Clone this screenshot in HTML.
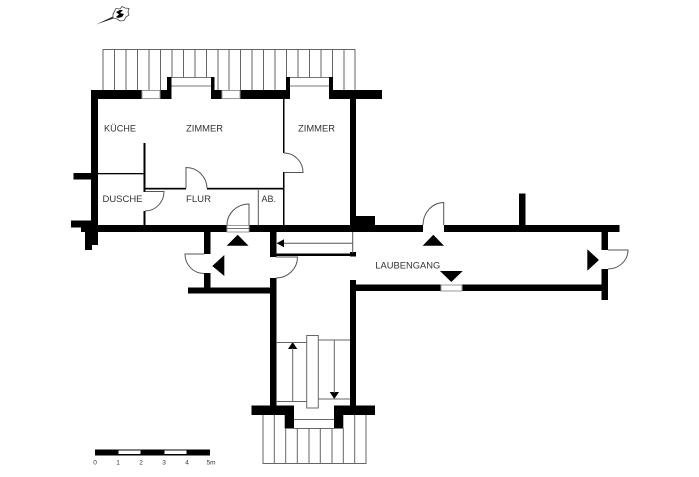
<!DOCTYPE html>
<html><head><meta charset="utf-8"><style>
html,body{margin:0;padding:0;background:#fff;width:699px;height:477px;overflow:hidden}
svg{display:block}
text{font-family:"Liberation Sans",sans-serif;font-size:9px;fill:#333}
</style></head><body>
<svg width="699" height="477" viewBox="0 0 699 477" xmlns="http://www.w3.org/2000/svg">
<!-- roof pickets top -->
<g stroke="#666" stroke-width="1" fill="none">
<path d="M103 90V49.5H355V90"/>
<path d="M114.5 90V50M126 90V50M137.5 90V50M149 90V50M160.5 90V50M172 78V50M183.5 78V50M195 78V50M206.5 78V50M218 90V50M229 90V50M240.5 90V50M252 90V50M263.5 90V50M275 90V50M286.5 78V50M298 78V50M309.5 78V50M321 78V50M332.5 90V50M344 90V50"/>
<path d="M171 77.5H211M171 86H211M290 77.5H329M290 86H329" stroke="#777"/>
</g>
<!-- thick walls -->
<g fill="#000">
<rect x="91" y="90" width="51" height="9"/>
<rect x="160" y="90" width="11" height="9"/>
<rect x="167" y="77" width="4.500" height="22"/>
<rect x="211" y="77" width="3.500" height="22"/>
<rect x="211" y="90" width="11" height="9"/>
<rect x="240" y="90" width="50" height="9"/>
<rect x="286" y="77" width="4" height="22"/>
<rect x="329" y="77" width="4" height="22"/>
<rect x="329" y="90" width="53" height="9"/>
<rect x="91" y="90" width="7" height="138"/>
<rect x="350" y="99" width="6" height="128"/>
<rect x="350" y="216" width="25" height="10"/>
<rect x="73.500" y="173" width="18" height="6.500"/>
<rect x="71" y="220.500" width="21" height="7"/>
<rect x="81" y="225" width="17" height="7"/>
<rect x="85" y="228" width="13" height="17"/>
<rect x="85" y="244" width="7" height="6"/>
<rect x="91" y="225" width="136" height="7"/>
<rect x="249" y="225" width="174" height="7"/>
<rect x="444" y="225" width="175.500" height="7"/>
<rect x="519" y="193.500" width="6.500" height="32"/>
<rect x="601.500" y="225" width="6.500" height="25"/>
<rect x="601.500" y="269" width="6.500" height="31"/>
<rect x="204" y="232" width="6.500" height="22"/>
<rect x="204" y="273" width="6.500" height="17"/>
<rect x="188" y="287.500" width="88" height="6"/>
<rect x="270" y="232" width="6.500" height="25"/>
<rect x="270" y="278" width="6.500" height="130"/>
<rect x="350" y="280" width="6" height="128"/>
<rect x="356" y="284.500" width="85" height="6.500"/>
<rect x="462" y="284.500" width="140" height="6.500"/>
<rect x="276" y="253.500" width="75" height="2.500"/>
<rect x="350" y="252" width="6" height="4.500"/>
<!-- inner walls -->
<rect x="143.500" y="143" width="2" height="49"/>
<rect x="143.500" y="211" width="2" height="14"/>
<rect x="145" y="187.800" width="41" height="1.700"/>
<rect x="207" y="187.800" width="77" height="1.700"/>
<rect x="98" y="173" width="46" height="1.300"/>
<rect x="283" y="99" width="1.500" height="54"/>
<rect x="283" y="172" width="1.500" height="53"/>
<!-- stair bottom -->
<rect x="251.500" y="405.500" width="42.500" height="9.500"/>
<rect x="284.700" y="405.500" width="9.300" height="23"/>
<rect x="334" y="405.500" width="41" height="9.500"/>
<rect x="334" y="405.500" width="9.300" height="23"/>
</g>
<!-- windows -->
<g fill="#fff" stroke="#999" stroke-width="1">
<rect x="142" y="90.500" width="18" height="8"/>
<rect x="222" y="90.500" width="18" height="8"/>
<rect x="441" y="285" width="21" height="6"/>
<rect x="227" y="225.500" width="22" height="6.500"/>
</g>
<path d="M227 228.500H249" stroke="#777" fill="none"/>
<!-- doors -->
<g fill="none" stroke="#555" stroke-width="1">
<path d="M249 225V204A22 21 0 0 0 227 225"/>
<path d="M443.700 225V202.500A21 22.500 0 0 0 423 225"/>
<path d="M284 172.500H303A19 19.500 0 0 0 284 153"/>
<path d="M186 188V167.500A21 21 0 0 1 207 188"/>
<path d="M145 191.500H164A19 19.500 0 0 1 145 211"/>
<path d="M204 254H185A19 19.500 0 0 0 204 273.500"/>
<path d="M276 257H297.500A21.500 21 0 0 1 276 278"/>
<path d="M608 250H628A20 19 0 0 1 608 269"/>
<path d="M258.300 190V225"/>
<path d="M277 243.300H352.700M352.700 232V253"/>
</g>
<!-- triangles -->
<g fill="#000">
<polygon points="226.700,245.700 248.500,245.700 237.700,234.700"/>
<polygon points="422.700,245.700 444,245.700 433.300,234.700"/>
<polygon points="440,271 462.700,271 451.300,282"/>
<polygon points="587.300,249.300 587.300,270.700 599,260"/>
<polygon points="212.300,266 224.300,255 224.300,276"/>
<polygon points="276.700,243.300 284,239.300 284,247.300"/>
<polygon points="292.700,342 288,349 297.300,349"/>
<polygon points="334.300,399 329.700,392 339,392"/>
</g>
<!-- stairs -->
<g fill="none" stroke="#666" stroke-width="1">
<rect x="306.700" y="335.500" width="11.600" height="72.500" fill="#fff"/>
<path d="M276 342.500H306.700M276 401.500H306.700M318.300 340H350M318.300 399H350"/>
<path d="M292.700 401V348M334.300 340V393"/>
<path d="M294 419.500H334M294 428.500H334"/>
<path d="M263 415V463.500H366V415M274.300 415V463M285.700 428V463M297.300 428V463M309 428V463M320.300 428V463M332 428V463M343.300 428V463M354.700 415V463"/>
</g>
<!-- scale -->
<g>
<rect x="95" y="449.500" width="115" height="6" fill="#000"/>
<rect x="118.500" y="450.500" width="22" height="3.500" fill="#fff"/>
<rect x="164.500" y="450.500" width="22" height="3.500" fill="#fff"/>
</g>
<g style="font-size:6.500px" text-anchor="middle">
<text x="95" y="464.500" style="font-size:6.500px">0</text>
<text x="118" y="464.500" style="font-size:6.500px">1</text>
<text x="141" y="464.500" style="font-size:6.500px">2</text>
<text x="164" y="464.500" style="font-size:6.500px">3</text>
<text x="187" y="464.500" style="font-size:6.500px">4</text>
<text x="211" y="464.500" style="font-size:6.500px" textLength="9" lengthAdjust="spacingAndGlyphs">5m</text>
</g>
<!-- labels -->
<text x="104" y="131.500" textLength="32" lengthAdjust="spacingAndGlyphs">KÜCHE</text>
<text x="186" y="131.500" textLength="37" lengthAdjust="spacingAndGlyphs">ZIMMER</text>
<text x="298" y="131.500" textLength="37" lengthAdjust="spacingAndGlyphs">ZIMMER</text>
<text x="102.500" y="202" textLength="40" lengthAdjust="spacingAndGlyphs">DUSCHE</text>
<text x="186" y="202" textLength="25" lengthAdjust="spacingAndGlyphs">FLUR</text>
<text x="261.500" y="202" textLength="14.500" lengthAdjust="spacingAndGlyphs">AB.</text>
<text x="375.300" y="268.500" textLength="65" lengthAdjust="spacingAndGlyphs">LAUBENGANG</text>
<!-- compass -->
<path d="M96 24.500L113 16.500L113.500 18.500Z" fill="#222"/>
<polygon points="113,14 116,8.500 120,9 122,6.500 125,8 129,8.500 128,12 129,15 126,17 124,20.500 120,21 117,19 113,18" fill="#fff" stroke="#444" stroke-width="0.800"/>
<polygon points="116,12 120,10 123,10 120,13 124,14 122,17 118,18 116,17 119,14.500" fill="#000"/>
</svg>
</body></html>
